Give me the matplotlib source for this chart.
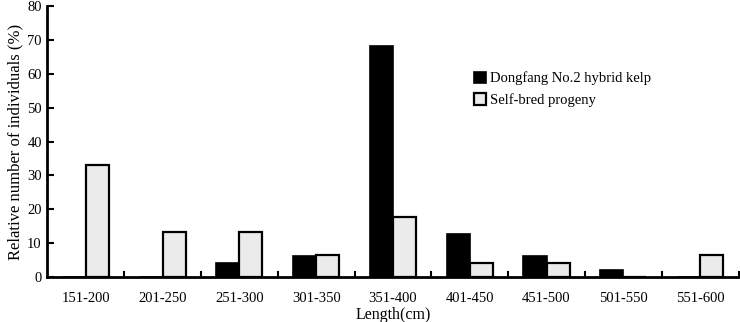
import numpy as np
import matplotlib.pyplot as plt

plt.rcParams['font.family'] = ['Liberation Serif', 'DejaVu Serif']

categories = ['151-200', '201-250', '251-300', '301-350', '351-400',
              '401-450', '451-500', '501-550', '551-600']
hybrid = [0, 0, 4.2, 6.3, 68.1, 12.7, 6.3, 2.1, 0]
selfbred = [33.2, 13.2, 13.2, 6.6, 17.6, 4.2, 4.2, 0, 6.6]

fig = plt.figure(figsize=(7.4, 3.22), dpi=100)
ax = fig.add_axes([0.064, 0.14, 0.934, 0.841])

x = np.arange(len(categories))
w = 0.3
ax.bar(x - w / 2, hybrid, w, color='black', edgecolor='black', linewidth=1.2,
       label='Dongfang No.2 hybrid kelp')
ax.bar(x + w / 2, selfbred, w, color='#ebebeb', edgecolor='black', linewidth=1.6,
       label='Self-bred progeny')

ax.set_xlim(-0.5, len(categories) - 0.5)
ax.set_ylim(0, 80)
ax.set_yticks(range(0, 81, 10))
ax.set_xticks(x + 0.5)
ax.set_xticklabels([])
ax.set_xticks(x, minor=True)
ax.set_xticklabels(categories, minor=True)
ax.tick_params(axis='x', which='major', direction='in', length=4, width=1.5)
ax.tick_params(axis='x', which='minor', length=0, pad=11, labelsize=10.5)
ax.tick_params(axis='y', direction='in', length=5, width=1.5, labelsize=10.5, pad=4)

for s in ['top', 'right']:
    ax.spines[s].set_visible(False)
for s in ['left', 'bottom']:
    ax.spines[s].set_linewidth(2)

ax.set_xlabel('Length(cm)', fontsize=11.5, labelpad=1)
ax.set_ylabel('Relative number of individuals (%)', fontsize=12, labelpad=3)

fig.legend(loc='upper left', bbox_to_anchor=(0.641, 0.778), frameon=False,
           fontsize=10.5, handlelength=0.8, handleheight=0.8, handletextpad=0.3,
           labelspacing=0.55, borderpad=0, borderaxespad=0)

fig.savefig('out.png', dpi=100)
